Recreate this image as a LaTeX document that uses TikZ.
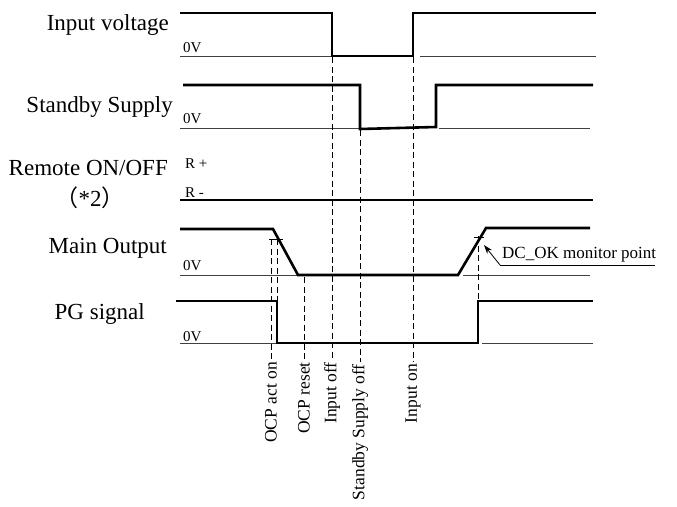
\documentclass[tikz,border=0pt]{standalone}
\usepackage{fontspec}
\setmainfont{Liberation Serif}
\newfontfamily\cjk{Noto Sans CJK SC}
\usetikzlibrary{arrows.meta,positioning}

\begin{document}
\begin{tikzpicture}[
    x=1pt, y=-1pt,
    sig/.style={font=\fontsize{23}{26}\selectfont, anchor=base east, inner sep=0pt},
    lvl/.style={font=\fontsize{15}{17}\selectfont, anchor=base west, inner sep=0pt},
    event/.style={font=\fontsize{17.5}{20}\selectfont, rotate=90, anchor=east, inner sep=2pt},
    wave/.style={line width=2.6pt, line join=miter},
    zero/.style={line width=0.8pt, draw=black!75},
    guide/.style={line width=0.8pt, dash pattern=on 6pt off 3.5pt},
    arr/.style={-{Stealth[length=9pt, width=6pt]}, line width=0.8pt}
]
\useasboundingbox (0,0) rectangle (677,506);

\node[sig] (vin) at (169,30) {Input voltage};
\node[sig] (sby) at (173,112) {Standby Supply};
\node[sig] (rem) at (168,175) {Remote ON/OFF};
\node[font=\fontsize{23}{26}\selectfont, anchor=base, inner sep=0pt] (note) at (90,206) {{\cjk （}*2{\cjk ）}};
\node[sig] (main) at (167,253) {Main Output};
\node[sig] (pg) at (145,319) {PG signal};

\node[lvl] (vin0) at (183,52) {0V};
\node[lvl] (sby0) at (183,123) {0V};
\node[lvl] (rplus) at (185,168) {R +};
\node[lvl] (rminus) at (185,197) {R -};
\node[lvl] (main0) at (183,270) {0V};
\node[lvl] (pg0) at (183,341) {0V};

\draw[zero] (180,56) -- (332,56) (420,56) -- (596,56);
\draw[zero] (180,128) -- (360,128) (439,128) -- (590,128);
\draw[zero] (180,275) -- (297,275) (463,275) -- (590,275);
\draw[zero] (180,343) -- (277,343) (482,343) -- (593,343);

\draw[wave] (180,13) -- (332,13) -- (332,56) -- (413,56) -- (413,13) -- (596,13);
\draw[wave] (183,85) -- (360,85) -- (360,129) -- (436,127) -- (436,85) -- (593,85);
\draw[wave] (180,200) -- (593,200);
\draw[wave] (180,229) -- (273,229) -- (298,275) -- (458,275) -- (486,228) -- (590,228);
\draw[wave] (176,301) -- (277,301) -- (277,343) -- (478,343) -- (478,301) -- (593,301);

\coordinate (ocpon) at (271,239);
\coordinate (ocppg) at (277,239);
\coordinate (ocprst) at (304,277);
\coordinate (inoff) at (332,57);
\coordinate (sboff) at (360,130);
\coordinate (inon) at (413,57);
\coordinate (dcok) at (478,236);

\node[event] (ocpon-lbl) at (271,360) {OCP act on};
\node[event] (ocprst-lbl) at (304,360) {OCP reset};
\node[event] (inoff-lbl) at (332,360) {Input off};
\node[event] (sboff-lbl) at (360,362) {Standby Supply off};
\node[event] (inon-lbl) at (413,362) {Input on};

\draw[guide] (ocpon) -- (ocpon-lbl.east);
\draw[guide] (ocppg) -- (277,301);
\draw[guide] (ocprst) -- (ocprst-lbl.east);
\draw[guide] (inoff) -- (inoff-lbl.east);
\draw[guide] (sboff) -- (sboff-lbl.east);
\draw[guide] (inon) -- (inon-lbl.east);
\draw[guide] (dcok) -- (478,301);
\draw[zero, draw=black] (269,239) -- (283,239);
\draw[zero, draw=black] (474,237) -- (484,237);

\node[font=\fontsize{17}{20}\selectfont, anchor=base west, inner sep=0pt] (dcok-lbl) at (502,258) {DC\_OK monitor point};
\coordinate (hook) at (500,265);
\draw[zero, draw=black] (hook) -- (655,265);
\draw[arr] (hook) -- (484,245);
\end{tikzpicture}
\end{document}
